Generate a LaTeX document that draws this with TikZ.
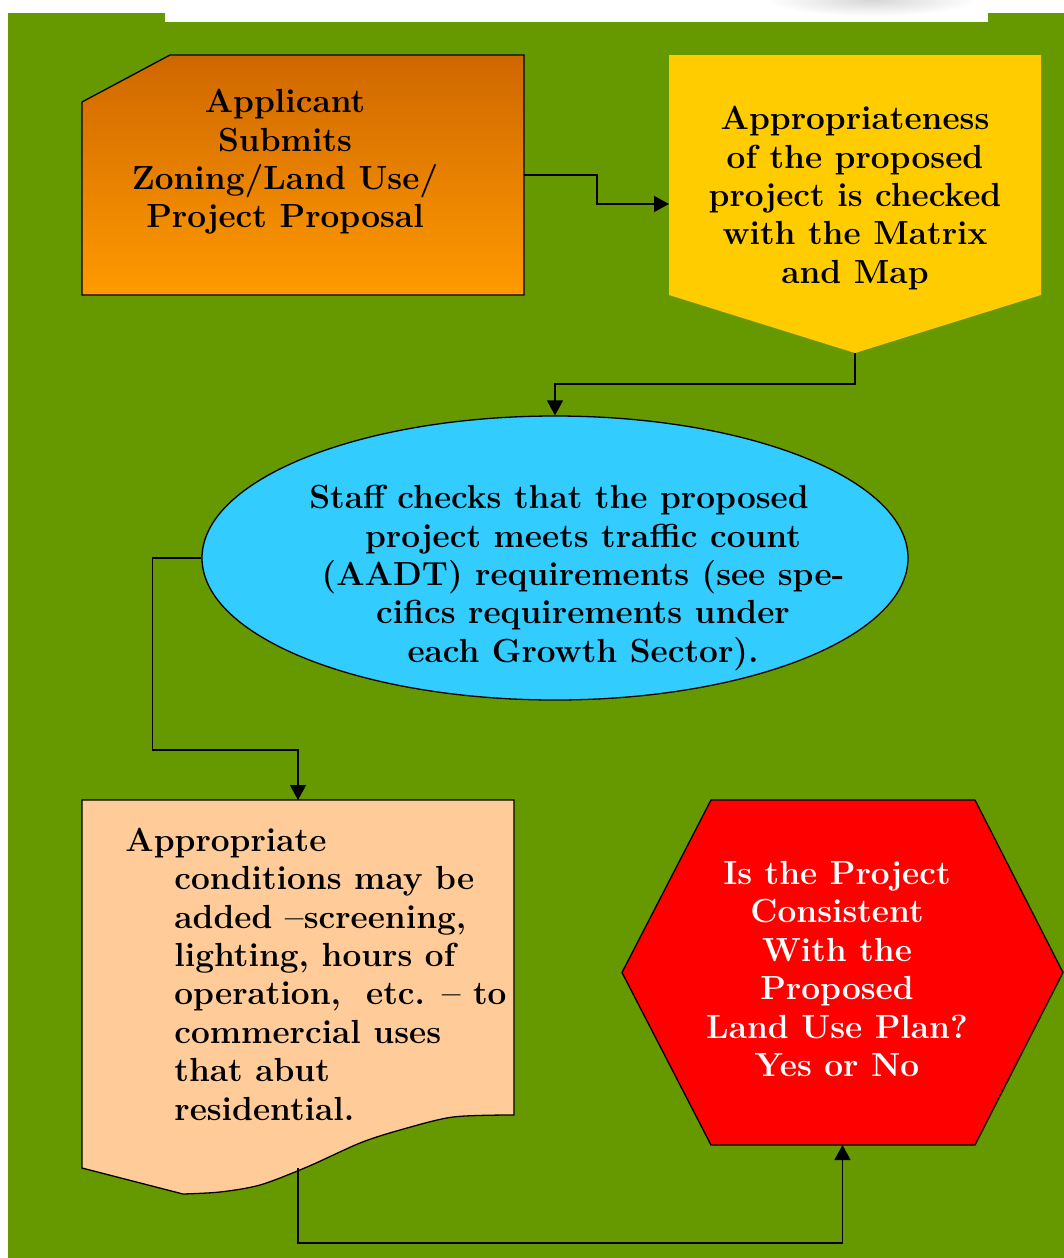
\documentclass[tikz,border=0pt]{standalone}
\usepackage{fontspec}
\usepackage{amsmath}
\usetikzlibrary{arrows.meta,shapes.geometric}

\definecolor{leafgreen}{HTML}{669900}
\definecolor{ochre}{HTML}{CF6700}
\definecolor{tangerine}{HTML}{FF9A00}
\definecolor{gold}{HTML}{FFCC00}
\definecolor{skyblue}{HTML}{33CCFF}
\definecolor{peach}{HTML}{FFCC99}
\newcommand{\hang}{\hspace*{24.5pt}}

\begin{document}
\begin{tikzpicture}[x=0.5pt,y=-0.5pt,
	boxframe/.style={inner sep=0pt,outer sep=0pt},
	blurb/.style={font=\fontsize{16.7}{19.2}\selectfont\bfseries,align=center,inner sep=0pt},
	outline/.style={line width=0.65pt,draw=black},
	link/.style={line width=0.65pt,-{Triangle[length=7.5pt,width=8pt]}}]
	\useasboundingbox (0,0) rectangle (1064,1258);
	% page background
	\fill[leafgreen] (8,13) rectangle (1064,1258);
	\fill[white] (165,0) rectangle (988,22);
	\begin{scope}
		\clip (165,0) rectangle (988,22);
		\shade[inner color=black!16,outer color=white] (872,0) ellipse (105 and 16);
	\end{scope}

	% frames of the five steps
	\node[boxframe,minimum width=221pt,minimum height=120pt] (submit) at (303,175) {};
	\node[boxframe,minimum width=186pt,minimum height=149pt] (check) at (855,204) {};
	\node[ellipse,outline,fill=skyblue,minimum width=353pt,minimum height=142pt] (staff) at (555,558) {};
	\node[boxframe,minimum width=216pt,minimum height=184pt] (advice) at (298,984) {};
	\node[boxframe,minimum width=220.5pt,minimum height=172.5pt] (verdict) at (842.5,972.5) {};

	\draw[outline,top color=ochre,bottom color=tangerine]
		(submit.north west) ++(0,47) -- ++(88,-47) -- (submit.north east)
		-- (submit.south east) -- (submit.south west) -- cycle;
	\fill[gold] (check.south) -- ++(186,-58) -- (check.north east)
		-- (check.north west) -- ++(0,240) -- cycle;
	\draw[outline,fill=peach] (advice.north west) -- (advice.north east) -- ++(0,315)
		-- plot[smooth] coordinates {(514,1115) (453,1117) (400,1130) (360,1143) (307,1167)
			(260,1185) (220,1192) (183,1194)}
		-- (82,1168) -- cycle;
	\draw[outline,fill=red] (verdict.west) -- ++(89,-172.5) -- ++(264,0) -- (verdict.east)
		-- ++(-88,172.5) -- ++(-264,0) -- cycle;

	% texts
	\node[blurb] (submittext) at (285,162) {Applicant\\Submits\\Zoning/Land Use/\\Project Proposal};
	\node[blurb] (checktext) at (855,198) {Appropriateness\\of the proposed\\project is checked\\with the Matrix\\and Map};
	\node[blurb] (stafftext) at (583,578) {Staff checks that the proposed\hspace*{24pt}\\project meets traffic count\\(AADT) requirements (see spe-\\cifics requirements under\\each Growth Sector).};
	\node[blurb,align=left,anchor=west] (advicetext) at (125,974) {Appropriate\\\hang conditions may be\\\hang added --screening,\\\hang lighting, hours of\\\hang operation,\ \ etc. -- to\\\hang commercial uses\\\hang that abut\\\hang residential.};
	\node[blurb,text=white] (verdicttext) at (837,969) {Is the Project\\Consistent\\With the\\Proposed\\Land Use Plan?\\Yes or No};

	% connectors
	\draw[link] (submit.east) -- ++(73,0) |- (check.west);
	\draw[link] (check.south) -- ++(0,31) -| (staff.north);
	\draw[link] (staff.west) -- ++(-49,0) -- ++(0,192) -| (advice.north);
	\draw[link] (advice.south) -- ++(0,75) -| (verdict.south);
\end{tikzpicture}
\end{document}
